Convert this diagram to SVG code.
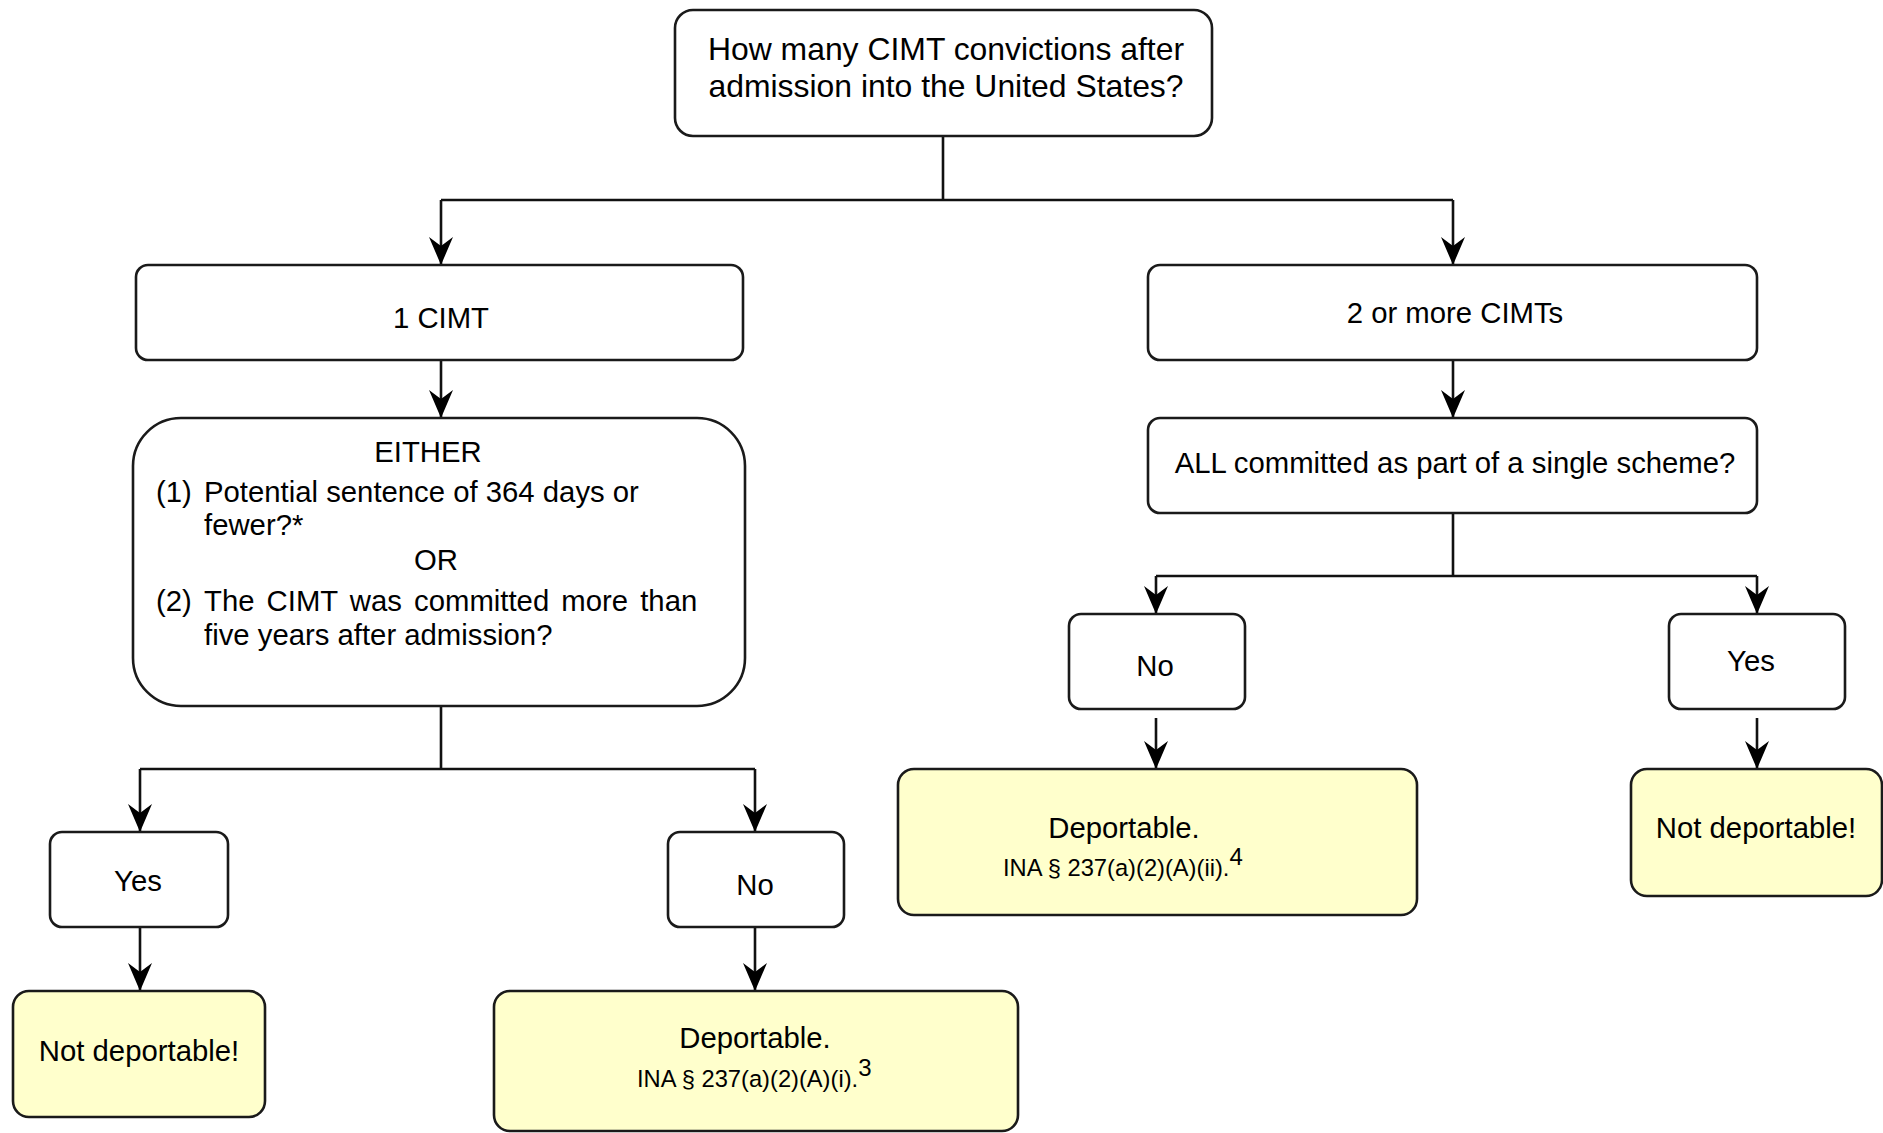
<svg xmlns="http://www.w3.org/2000/svg" width="1883" height="1133" viewBox="0 0 1883 1133">
<defs>
<style>
.box{fill:#ffffff;stroke:#1a1a1a;stroke-width:2.6}
.res{fill:#ffffcc;stroke:#1a1a1a;stroke-width:2.6}
.t{font-family:"Liberation Sans",Arial,Helvetica,sans-serif;font-size:29.3px;fill:#000}
.tc{text-anchor:middle}
.big{font-size:31.9px}
.sm{font-size:23.7px}
.sup{font-size:24px}
.ln{fill:none;stroke:#111;stroke-width:2.6}
.ar{marker-end:url(#arr)}
</style>
<marker id="arr" viewBox="0 -12 28 24" refX="28" refY="0" markerWidth="28" markerHeight="24" markerUnits="userSpaceOnUse" orient="auto">
<path d="M0,-12 L28,0 L0,12 L9,0 Z" fill="#000"/>
</marker>
</defs>
<rect width="1883" height="1133" fill="#ffffff"/>

<g id="connectors">
<path class="ln" d="M943,136 V200 M441,200 H1453"/>
<path class="ln ar" d="M441,200 V265"/>
<path class="ln ar" d="M1453,200 V265"/>
<path class="ln ar" d="M441,360 V418"/>
<path class="ln ar" d="M1453,360 V418"/>
<path class="ln" d="M441,706 V769 M140,769 H755"/>
<path class="ln ar" d="M140,769 V832"/>
<path class="ln ar" d="M755,769 V832"/>
<path class="ln ar" d="M140,927 V991"/>
<path class="ln ar" d="M755,927 V991"/>
<path class="ln" d="M1453,513 V576 M1156,576 H1757"/>
<path class="ln ar" d="M1156,576 V614"/>
<path class="ln ar" d="M1757,576 V614"/>
<path class="ln ar" d="M1156,718 V769"/>
<path class="ln ar" d="M1757,718 V769"/>
</g>

<g id="q-count">
<rect class="box" x="675" y="10" width="537" height="126" rx="18"/>
<text class="t big tc" x="946" y="60">How many CIMT convictions after</text>
<text class="t big tc" x="946" y="97">admission into the United States?</text>
</g>

<g id="one-cimt">
<rect class="box" x="136" y="265" width="607" height="95" rx="12"/>
<text class="t tc" x="441" y="328">1 CIMT</text>
</g>

<g id="two-cimts">
<rect class="box" x="1148" y="265" width="609" height="95" rx="12"/>
<text class="t tc" x="1455" y="323">2 or more CIMTs</text>
</g>

<g id="either">
<rect class="box" x="133" y="418" width="612" height="288" rx="48"/>
<text class="t tc" x="428" y="462">EITHER</text>
<text class="t" x="156" y="502">(1)</text>
<text class="t" x="204" y="502">Potential sentence of 364 days or</text>
<text class="t" x="204" y="535">fewer?*</text>
<text class="t tc" x="436" y="570">OR</text>
<text class="t" x="156" y="611">(2)</text>
<text class="t" x="204" y="611" word-spacing="4">The CIMT was committed more than</text>
<text class="t" x="204" y="645">five years after admission?</text>
</g>

<g id="single-scheme">
<rect class="box" x="1148" y="418" width="609" height="95" rx="12"/>
<text class="t tc" x="1455" y="473">ALL committed as part of a single scheme?</text>
</g>

<g id="yes-left">
<rect class="box" x="50" y="832" width="178" height="95" rx="12"/>
<text class="t tc" x="138" y="891">Yes</text>
</g>

<g id="no-left">
<rect class="box" x="668" y="832" width="176" height="95" rx="12"/>
<text class="t tc" x="755" y="895">No</text>
</g>

<g id="notdep-left">
<rect class="res" x="13" y="991" width="252" height="126" rx="16"/>
<text class="t tc" x="139" y="1061">Not deportable!</text>
</g>

<g id="dep-left">
<rect class="res" x="494" y="991" width="524" height="140" rx="16"/>
<text class="t tc" x="755" y="1048">Deportable.</text>
<text class="t sm" x="637" y="1087">INA § 237(a)(2)(A)(i).<tspan class="sup" dy="-11">3</tspan></text>
</g>

<g id="no-right">
<rect class="box" x="1069" y="614" width="176" height="95" rx="12"/>
<text class="t tc" x="1155" y="676">No</text>
</g>

<g id="yes-right">
<rect class="box" x="1669" y="614" width="176" height="95" rx="12"/>
<text class="t tc" x="1751" y="671">Yes</text>
</g>

<g id="dep-right">
<rect class="res" x="898" y="769" width="519" height="146" rx="16"/>
<text class="t tc" x="1124" y="838">Deportable.</text>
<text class="t sm" x="1003" y="876">INA § 237(a)(2)(A)(ii).<tspan class="sup" dy="-11">4</tspan></text>
</g>

<g id="notdep-right">
<rect class="res" x="1631" y="769" width="251" height="127" rx="16"/>
<text class="t tc" x="1756" y="838">Not deportable!</text>
</g>
</svg>
